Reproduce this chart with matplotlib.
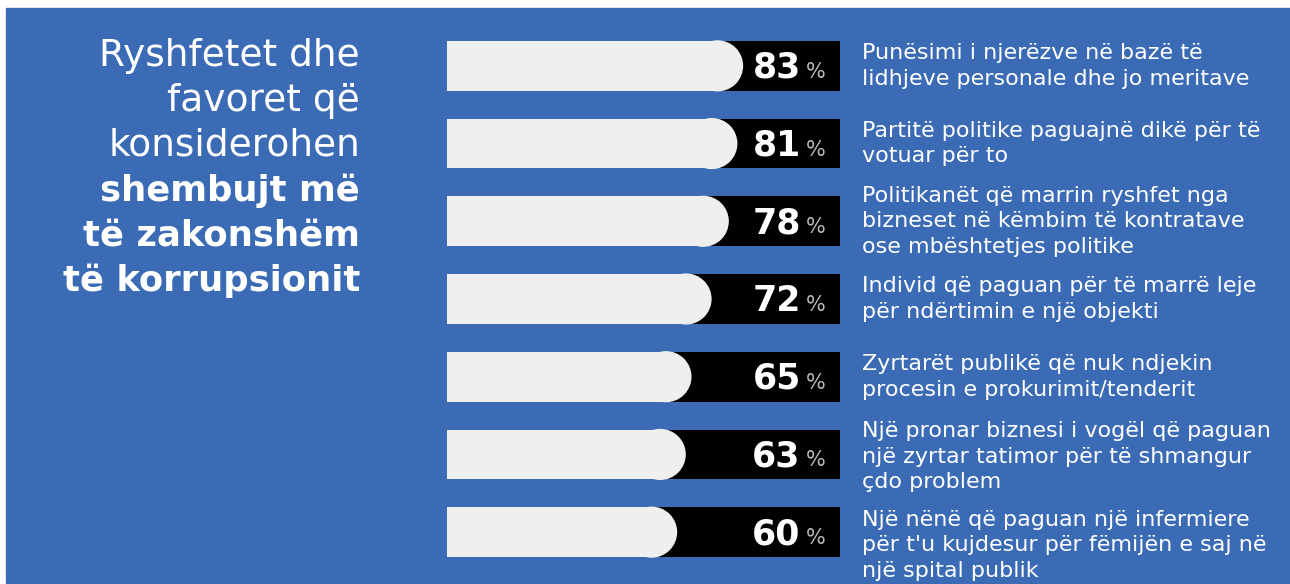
import matplotlib.pyplot as plt
from matplotlib.patches import Rectangle, Ellipse
from matplotlib.transforms import blended_transform_factory

# data
values = [83, 81, 78, 72, 65, 63, 60]
labels = [
    "Punësimi i njerëzve në bazë të\nlidhjeve personale dhe jo meritave",
    "Partitë politike paguajnë dikë për të\nvotuar për to",
    "Politikanët që marrin ryshfet nga\nbizneset në këmbim të kontratave\nose mbështetjes politike",
    "Individ që paguan për të marrë leje\npër ndërtimin e një objekti",
    "Zyrtarët publikë që nuk ndjekin\nprocesin e prokurimit/tenderit",
    "Një pronar biznesi i vogël që paguan\nnjë zyrtar tatimor për të shmangur\nçdo problem",
    "Një nënë që paguan një infermiere\npër t'u kujdesur për fëmijën e saj në\nnjë spital publik",
]
title_light = ["Ryshfetet dhe", "favoret që", "konsiderohen"]
title_bold = ["shembujt më", "të zakonshëm", "të korrupsionit"]

# small vertical nudges of the label blocks (bar units)
label_shift = [0, 0, 0, 0, 0, 0.03, 0.17]

BLUE = '#3a6bb4'
BAR_WHITE = '#efefef'
W, H = 1290, 584

plt.rcParams['font.family'] = ['DejaVu Sans']

fig = plt.figure(figsize=(W / 100, H / 100), dpi=100)
fig.patch.set_facecolor('white')

# background axes in pixel coordinates
bg = fig.add_axes([0, 0, 1, 1])
bg.set_xlim(0, W)
bg.set_ylim(H, 0)
bg.axis('off')
bg.add_patch(Rectangle((6, 8), W - 6, 575, color=BLUE, zorder=0))

# title, right aligned, one line at a time
for i, line in enumerate(title_light + title_bold):
    light = i < 3
    bg.text(360, 66 + 45 * i, line, ha='right', va='baseline', color='white',
            fontsize=27 if light else 25.5,
            fontweight='normal' if light else 'bold')

# bar axes: spans the black boxes
x0, x1 = 447, 840
y_top, y_bot = 27, 571
ax = fig.add_axes([x0 / W, 1 - y_bot / H, (x1 - x0) / W, (y_bot - y_top) / H])
bar_start, xmax = -20, 117
ax.set_xlim(bar_start, xmax)
ax.set_ylim(len(values) - 0.5, -0.5)
ax.axis('off')

h = 0.64
r = 8.7  # rounding radius in data units
trans = blended_transform_factory(ax.transAxes, ax.transData)
for i, (v, lab) in enumerate(zip(values, labels)):
    ax.barh(i, xmax - bar_start, left=bar_start, height=h, color='black', zorder=1)
    ax.barh(i, v - r - bar_start, left=bar_start, height=h, color=BAR_WHITE, zorder=2)
    ax.add_patch(Ellipse((v - r, i), 2 * r, h, color=BAR_WHITE, zorder=2))
    ax.text(0.9, i + 0.155, str(v), transform=trans, ha='right', va='baseline',
            color='white', fontsize=25, fontweight='bold', zorder=3)
    ax.text(0.913, i + 0.155, '%', transform=trans, ha='left', va='baseline',
            color='#b8b8b8', fontsize=15, zorder=3)
    ax.text(1.056, i + label_shift[i], lab, transform=trans, ha='left', va='center',
            color='white', fontsize=16, linespacing=1.35, clip_on=False)

fig.savefig('out.png', dpi=100, facecolor=fig.get_facecolor())
